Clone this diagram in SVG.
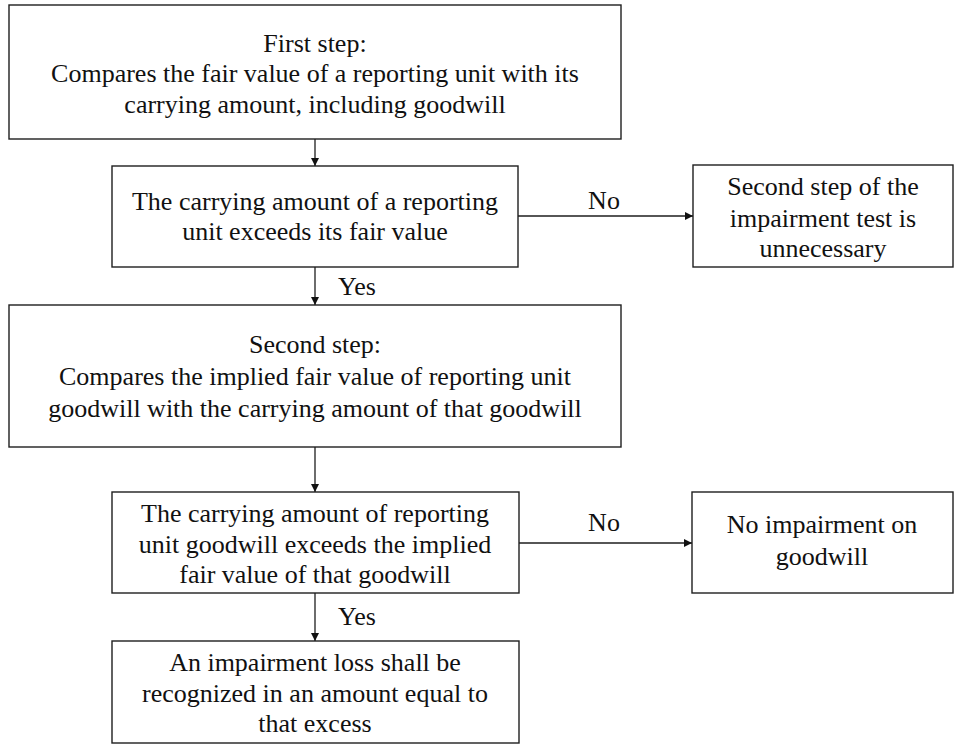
<svg xmlns="http://www.w3.org/2000/svg" width="956" height="746" viewBox="0 0 956 746">
  <defs>
    <marker id="arrow" viewBox="0 0 10 10" refX="10" refY="5" markerWidth="8" markerHeight="8" markerUnits="userSpaceOnUse" orient="auto">
      <path d="M0,0 L10,5 L0,10 z" fill="#111"/>
    </marker>
    <style>
      .box { fill: #fff; stroke: #1e1e1e; stroke-width: 1.4; }
      .link { fill: none; stroke: #1e1e1e; stroke-width: 1.3; marker-end: url(#arrow); }
      text { font-family: "Liberation Serif", "Times New Roman", serif; font-size: 26px; fill: #111; text-anchor: middle; }
    </style>
  </defs>
  <rect width="956" height="746" fill="#fff"/>

  <g id="connectors">
    <line class="link" x1="315" y1="139" x2="315" y2="166"/>
    <line class="link" x1="518" y1="216" x2="693" y2="216"/>
    <line class="link" x1="315" y1="267" x2="315" y2="305"/>
    <line class="link" x1="315" y1="447" x2="315" y2="492"/>
    <line class="link" x1="519" y1="543" x2="692" y2="543"/>
    <line class="link" x1="315" y1="593" x2="315" y2="641"/>
    <text x="604" y="209">No</text>
    <text x="357" y="295">Yes</text>
    <text x="604" y="531">No</text>
    <text x="357" y="625">Yes</text>
  </g>

  <g id="first-step">
    <rect class="box" x="9" y="5" width="612" height="134"/>
    <text x="315" y="52">First step:</text>
    <text x="315" y="82">Compares the fair value of a reporting unit with its</text>
    <text x="315" y="113">carrying amount, including goodwill</text>
  </g>

  <g id="check-fair-value">
    <rect class="box" x="112" y="166" width="406" height="101"/>
    <text x="315" y="210">The carrying amount of a reporting</text>
    <text x="315" y="240">unit exceeds its fair value</text>
  </g>

  <g id="no-second-step">
    <rect class="box" x="693" y="165" width="260" height="102"/>
    <text x="823" y="195">Second step of the</text>
    <text x="823" y="227">impairment test is</text>
    <text x="823" y="257">unnecessary</text>
  </g>

  <g id="second-step">
    <rect class="box" x="9" y="305" width="612" height="142"/>
    <text x="315" y="353">Second step:</text>
    <text x="315" y="385">Compares the implied fair value of reporting unit</text>
    <text x="315" y="417">goodwill with the carrying amount of that goodwill</text>
  </g>

  <g id="check-goodwill">
    <rect class="box" x="112" y="492" width="407" height="101"/>
    <text x="315" y="522">The carrying amount of reporting</text>
    <text x="315" y="553">unit goodwill  exceeds the implied</text>
    <text x="315" y="583">fair value of that goodwill</text>
  </g>

  <g id="no-impairment">
    <rect class="box" x="692" y="492" width="261" height="101"/>
    <text x="822" y="533">No impairment  on</text>
    <text x="822" y="565">goodwill</text>
  </g>

  <g id="impairment-loss">
    <rect class="box" x="112" y="641" width="407" height="102"/>
    <text x="315" y="671">An impairment loss shall be</text>
    <text x="315" y="702">recognized in an amount equal to</text>
    <text x="315" y="732">that excess</text>
  </g>
</svg>
